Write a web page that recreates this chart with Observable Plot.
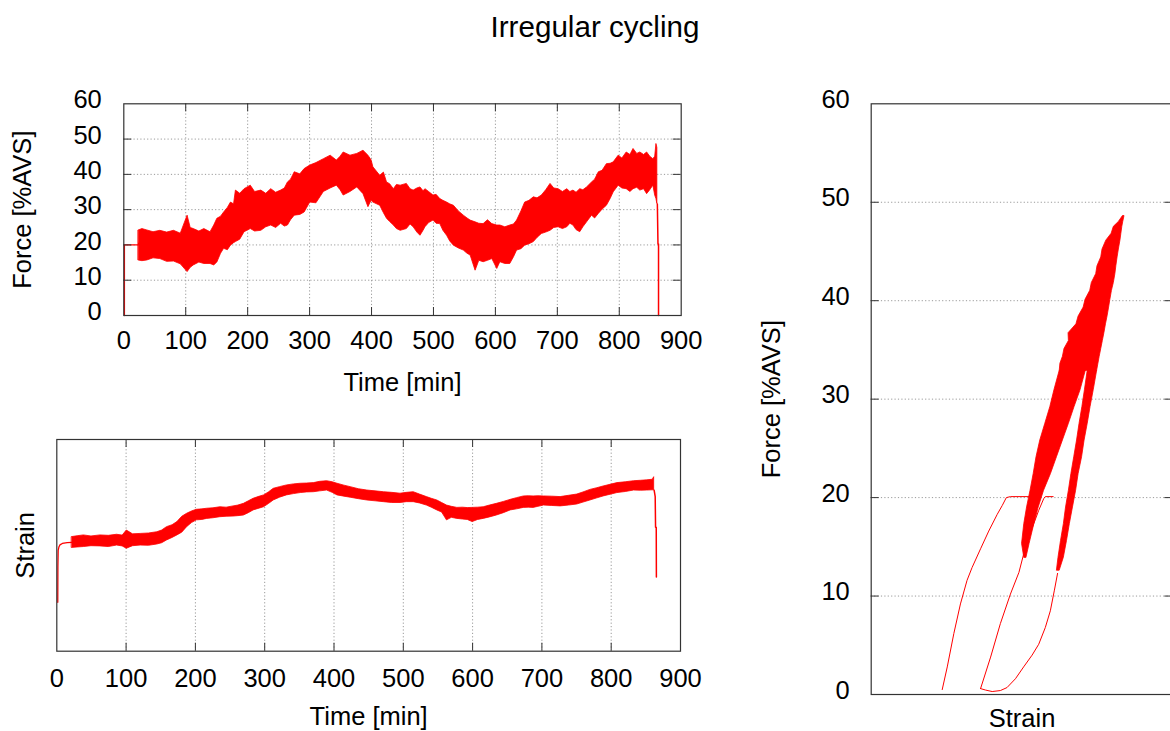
<!DOCTYPE html>
<html>
<head>
<meta charset="utf-8">
<script src="https://cdn.jsdelivr.net/npm/d3@7"></script>
<script src="https://cdn.jsdelivr.net/npm/@observablehq/plot@0.6"></script>
<style>
html,body{margin:0;padding:0;background:#fff;overflow:hidden;width:1170px;height:731px;}
#root{position:relative;width:1170px;height:731px;overflow:hidden;font-family:"Liberation Sans",Arial,sans-serif;}
#title{position:absolute;left:0;width:1190px;top:12.1px;text-align:center;font-size:29.6px;line-height:30px;color:#000;}
</style>
</head>
<body>
<div id="root"><div id="title">Irregular cycling</div></div>
<script>
// ---------- tick labels ----------
const timeTicks = [0, 100, 200, 300, 400, 500, 600, 700, 800, 900];
const forceTicks = [0, 10, 20, 30, 40, 50, 60];
const timeGrid = [100, 200, 300, 400, 500, 600, 700, 800];
const forceGrid = [10, 20, 30, 40, 50];

// ---------- force vs time: cycling band envelope ----------
const bandTime = [24,30,38,48,59,70,81,92,103,108,113,122,130,140,146,151,157,162,168,173,178,181,188,195,205,212,222,230,238,246,254,260,265,270,276,285,292,301,311,323,334,344,350,355,366,377,387,395,400,403,414,420,425,430,436,441,447,457,463,468,474,479,484,487,493,500,505,511,516,522,527,533,541,549,555,560,568,574,581,588,595,603,608,616,624,630,635,642,648,655,662,668,675,682,689,695,702,709,716,721,726,731,737,742,748,756,761,767,773,780,786,791,799,805,812,818,823,829,834,840,845,850,855,858,860,861.5];
const bandForceHi = [24.1,24.5,24.1,23.6,24.0,23.5,24.0,23.2,28.3,24.8,24.5,23.8,24.5,23.6,25.5,27.4,28.0,29.2,30.5,32.0,31.5,35.4,34.5,35.8,36.8,35.0,35.4,34.5,35.8,34.8,35.4,36.0,37.7,38.5,40.6,40.0,41.5,42.5,43.2,44.3,45.3,43.9,45.0,46.2,45.3,45.8,46.7,45.3,44.0,42.0,39.6,40.5,37.7,37.2,35.8,37.0,36.8,37.3,35.8,35.4,36.0,36.3,35.2,35.8,35.0,34.0,34.2,33.0,32.5,32.0,31.5,31.1,29.5,28.3,27.5,26.9,26.4,26.0,25.9,27.0,25.9,25.5,25.5,25.0,25.5,25.8,26.9,29.5,32.0,32.5,33.5,33.2,34.0,35.5,37.3,36.0,35.8,35.0,35.8,35.0,35.4,34.8,35.8,35.5,36.3,37.7,38.5,40.6,41.0,42.9,43.0,43.4,45.3,44.5,46.2,45.5,47.2,45.8,46.2,45.5,46.2,45.0,44.3,45.0,48.6,47.5];
const bandForceLo = [15.6,15.4,15.6,16.2,16.0,15.2,15.3,14.5,12.3,13.5,14.2,15.0,14.6,14.6,14.2,15.0,17.5,18.9,18.5,19.8,20.5,20.8,21.5,23.6,24.5,23.8,24.0,25.0,25.5,24.8,26.0,25.2,25.5,27.0,28.3,28.5,29.2,32.0,31.8,35.0,36.0,36.8,35.5,34.0,35.0,36.3,34.4,30.7,32.5,32.0,31.1,29.0,27.4,26.5,25.5,24.5,24.0,24.5,25.8,25.0,23.5,22.6,24.0,25.0,26.2,26.9,26.0,25.9,24.0,22.6,21.0,19.8,19.0,18.4,17.5,17.0,12.7,15.5,15.1,15.5,16.0,13.2,15.1,14.6,14.6,16.5,18.4,18.8,19.8,20.2,20.8,22.0,23.1,23.5,24.0,24.8,25.0,24.5,25.0,26.0,25.5,24.2,23.6,25.0,26.4,28.3,27.5,28.8,30.0,31.1,33.0,34.9,36.8,36.0,35.8,35.0,35.8,36.2,35.4,35.8,34.4,35.5,36.8,34.0,33.0,31.6];
// thin segments before and after cycling
const rampTime = [1, 1, 24, 24];
const rampForce = [0, 20, 20, 20.5];
const unloadTime = [861.5, 862.5, 863.4, 863.4];
const unloadForce = [31.6, 20.3, 20.3, 0];

// ---------- strain vs time (relative units, 0 = bottom, 100 = top of frame) ----------
const strainTime = [22,30,39,50,63,75,87,95,101,110,121,133,145,152,159,167,174,181,188,195,202,210,217,226,236,245,255,262,270,277,284,291,299,306,313,322,332,342,352,361,371,380,390,398,405,415,424,436,448,460,472,484,496,505,515,524,534,541,549,556,563,570,578,586,593,600,608,616,625,635,645,655,664,674,681,688,695,703,715,727,739,751,760,770,780,789,799,809,821,833,843,852,860,862];
const strainHi = [53.9,54.3,54.7,54.2,54.7,54.5,55.0,54.6,57.0,55.2,55.4,55.6,56.2,57.0,58.6,59.5,61.0,63.5,64.9,66.0,66.8,67.0,67.3,67.5,68.0,67.8,68.4,68.8,69.6,70.8,72.0,72.8,73.6,75.0,76.7,77.5,78.3,78.8,79.1,79.2,79.4,80.0,80.3,79.8,79.1,78.2,77.5,76.5,75.9,75.5,75.1,74.8,74.4,74.8,75.1,74.0,72.8,72.0,71.2,70.0,68.8,68.2,67.7,67.8,67.6,67.7,67.8,68.0,68.8,69.6,70.5,71.5,72.3,73.1,73.2,73.1,73.2,73.1,73.0,72.8,73.4,74.0,75.0,76.2,77.0,77.8,78.6,79.4,79.8,80.3,80.5,80.7,81.0,82.2];
const strainLo = [48.8,49.0,49.2,49.6,49.5,49.2,49.9,49.5,48.4,49.6,49.9,49.8,50.4,51.0,52.3,53.5,54.7,56.0,58.6,60.5,61.8,62.0,62.5,62.8,63.3,63.5,63.6,63.8,64.1,65.2,66.5,67.2,68.0,69.5,71.2,72.5,73.6,74.2,74.7,75.0,75.1,75.5,75.9,74.8,73.6,73.0,72.5,71.8,71.2,70.8,70.4,70.0,70.0,70.4,70.4,69.8,68.8,67.8,66.5,65.5,61.8,63.0,62.5,62.2,62.0,61.0,62.0,62.5,63.2,64.1,65.2,66.5,67.0,67.7,67.8,67.7,68.2,68.8,68.6,68.4,68.8,69.3,70.2,71.2,72.2,73.1,73.9,74.7,75.2,75.9,75.8,75.9,76.0,75.9];
const strainRampTime = [1.4, 1.6, 2.0, 3.0, 4.5, 8, 15, 22];
const strainRamp = [23.1, 40.0, 47.6, 49.2, 50.2, 50.9, 51.3, 51.4];
const strainEndTime = [862, 863.5, 864, 865, 865.2];
const strainEnd = [76.0, 73.0, 58.6, 58.6, 35.0];

// ---------- force vs strain loops (strain in relative units) ----------
const loopTopF = [32.9,33.6,34.3,35.1,35.9,36.7,37.6,38.4,39.3,40.1,41.0,41.8,42.7,43.5,44.4,45.2,46.1,46.8,47.5,48.0,48.6];
const loopTopL = [60.0,60.2,61.0,61.5,62.9,62.8,65.3,66.0,67.6,68.2,69.7,70.2,71.6,72.0,73.2,73.6,74.8,76.5,77.2,78.8,80.1];
const loopTopR = [71.9,72.3,72.7,73.2,73.7,74.2,74.7,75.2,75.7,76.1,76.6,77.2,77.7,78.0,78.4,78.8,79.3,79.6,79.9,80.2,80.6];
const loopLeftF = [13.9,15.3,17.3,19.0,20.7,22.4,24.1,25.8,27.5,29.2,30.9,32.9];
const loopLeftL = [48.7,48.0,48.7,49.6,50.7,51.7,52.6,53.8,55.4,57.0,58.3,60.0];
const loopLeftR = [49.4,50.4,51.9,53.3,55.0,57.2,59.1,61.0,62.9,64.7,66.6,68.3];
const loopRightF = [12.6,13.9,15.6,17.3,19.0,20.7,22.4,24.1,25.8,27.5,29.2,30.9,32.9];
const loopRightL = [59.1,59.6,60.4,61.3,62.0,62.9,63.7,64.6,65.5,66.3,67.2,68.0,68.9];
const loopRightR = [60.0,61.3,62.3,63.2,64.2,65.2,66.0,67.1,67.9,68.9,69.8,70.8,71.9];
const loadAStrain = [22.6,24.2,26.3,28.4,30.5,32.1,34.8,37.4,40.1,41.7,43.0,44.3,50.7];
const loadAForce = [0.5,2.8,6.2,9.2,11.6,12.9,14.8,16.6,18.3,19.2,20.0,20.1,20.1];
const loadBStrain = [34.8,38.0,41.1,44.3,47.0,48.7,51.2,53.3,54.9,55.4,57.9];
const loadBForce = [0.6,3.8,7.2,10.2,12.4,14.5,16.9,18.7,19.9,20.1,20.1];
const loadCStrain = [34.8,36.4,38.5,41.1,43.2,45.9,48.5,51.2,53.3,55.4,57.0,58.3,59.3];
const loadCForce = [0.6,0.45,0.3,0.4,0.7,1.6,2.8,4.0,5.1,6.8,8.5,10.6,12.3];

// ---------- build tables ----------
const forceBand = bandTime.map((t, i) => ({t, lo: bandForceLo[i], hi: bandForceHi[i]}));
const ramp = rampTime.map((t, i) => ({t, f: rampForce[i]}));
const unload = unloadTime.map((t, i) => ({t, f: unloadForce[i]}));
const strainBand = strainTime.map((t, i) => ({t, lo: strainLo[i], hi: strainHi[i]}));
const sRamp = strainRampTime.map((t, i) => ({t, s: strainRamp[i]}));
const sEnd = strainEndTime.map((t, i) => ({t, s: strainEnd[i]}));
const loopTop = loopTopF.map((f, i) => ({f, l: loopTopL[i], r: loopTopR[i]}));
const loopLeft = loopLeftF.map((f, i) => ({f, l: loopLeftL[i], r: loopLeftR[i]}));
const loopRight = loopRightF.map((f, i) => ({f, l: loopRightL[i], r: loopRightR[i]}));
const loadA = loadAStrain.map((u, i) => ({u, f: loadAForce[i]}));
const loadB = loadBStrain.map((u, i) => ({u, f: loadBForce[i]}));
const loadC = loadCStrain.map((u, i) => ({u, f: loadCForce[i]}));

// ---------- styles ----------
const FONT = "'Liberation Sans', Arial, sans-serif";
const RED = "#ff0000";
const INK = "#333333";
const GRID = {stroke: "#9a9a9a", strokeWidth: 1, strokeDasharray: "1.2,2.2"};
const TICK = 8;
const style = {fontFamily: FONT, fontSize: "25.5px", color: "#000", background: "transparent", overflow: "visible"};
const root = document.getElementById("root");
function place(el, left, top) {
  el.style.position = "absolute";
  el.style.left = left + "px";
  el.style.top = top + "px";
  root.appendChild(el);
}
const fmt = d3.format("d");

// ---------- panel 1: force vs time ----------
{
  const W = 720, H = 335, mL = 123.3, mR = 39.3, mT = 23.3, mB = 100;
  const fh = H - mT - mB, fw = W - mL - mR;
  const p = Plot.plot({
    width: W, height: H, marginLeft: mL, marginRight: mR, marginTop: mT, marginBottom: mB,
    style,
    x: {domain: [0, 900]},
    y: {domain: [0, 60]},
    marks: [
      Plot.ruleX(timeGrid, GRID),
      Plot.ruleY(forceGrid, GRID),
      Plot.areaY(forceBand, {x: "t", y1: "lo", y2: "hi", fill: RED, stroke: RED, strokeWidth: 0.8}),
      Plot.line(ramp, {x: "t", y: "f", stroke: RED, strokeWidth: 1.3}),
      Plot.line(unload, {x: "t", y: "f", stroke: RED, strokeWidth: 1.5}),
      Plot.ruleX(timeGrid, {stroke: INK, insetTop: fh - TICK}),
      Plot.ruleX(timeGrid, {stroke: INK, insetBottom: fh - TICK}),
      Plot.ruleY(forceGrid, {stroke: INK, insetRight: fw - TICK}),
      Plot.ruleY(forceGrid, {stroke: INK, insetLeft: fw - TICK}),
      Plot.frame({stroke: INK, strokeWidth: 1.2}),
      Plot.axisX({ticks: timeTicks, tickSize: 0, tickPadding: 15, tickFormat: fmt, label: "Time [min]", labelAnchor: "center", labelOffset: 75, labelArrow: "none"}),
      Plot.axisY({ticks: forceTicks, tickSize: 0, tickPadding: 22, dy: -3.5, tickFormat: fmt, label: "Force [%AVS]", labelAnchor: "center", labelOffset: 111, labelArrow: "none"})
    ]
  });
  place(p, 0, 80);
}

// ---------- panel 2: strain vs time ----------
{
  const W = 720, H = 316, mL = 56.3, mR = 40, mT = 24, mB = 80.3;
  const fh = H - mT - mB;
  const p = Plot.plot({
    width: W, height: H, marginLeft: mL, marginRight: mR, marginTop: mT, marginBottom: mB,
    style,
    x: {domain: [0, 900]},
    y: {domain: [0, 100]},
    marks: [
      Plot.ruleX(timeGrid, GRID),
      Plot.areaY(strainBand, {x: "t", y1: "lo", y2: "hi", fill: RED, stroke: RED, strokeWidth: 0.8}),
      Plot.line(sRamp, {x: "t", y: "s", stroke: RED, strokeWidth: 1.3}),
      Plot.line(sEnd, {x: "t", y: "s", stroke: RED, strokeWidth: 1.5}),
      Plot.ruleX(timeGrid, {stroke: INK, insetTop: fh - TICK}),
      Plot.ruleX(timeGrid, {stroke: INK, insetBottom: fh - TICK}),
      Plot.frame({stroke: INK, strokeWidth: 1.2}),
      Plot.axisX({ticks: timeTicks, tickSize: 0, tickPadding: 17.5, tickFormat: fmt, label: "Time [min]", labelAnchor: "center", labelOffset: 74, labelArrow: "none"}),
      Plot.axisY({ticks: [], tickSize: 0, label: "Strain", labelAnchor: "center", labelOffset: 41.3, labelArrow: "none"})
    ]
  });
  place(p, 0, 415);
}

// ---------- panel 3: force vs strain ----------
{
  const W = 470, H = 651, mL = 150.7, mR = 17.6, mT = 23.3, mB = 37;
  const fw = W - mL - mR;
  const p = Plot.plot({
    width: W, height: H, marginLeft: mL, marginRight: mR, marginTop: mT, marginBottom: mB,
    style,
    x: {domain: [0, 96]},
    y: {domain: [0, 60]},
    marks: [
      Plot.ruleY(forceGrid, GRID),
      Plot.line(loadA, {x: "u", y: "f", stroke: RED, strokeWidth: 1}),
      Plot.line(loadB, {x: "u", y: "f", stroke: RED, strokeWidth: 1}),
      Plot.line(loadC, {x: "u", y: "f", stroke: RED, strokeWidth: 1}),
      Plot.areaX(loopLeft, {y: "f", x1: "l", x2: "r", fill: RED, stroke: RED, strokeWidth: 0.8}),
      Plot.areaX(loopRight, {y: "f", x1: "l", x2: "r", fill: RED, stroke: RED, strokeWidth: 0.8}),
      Plot.areaX(loopTop, {y: "f", x1: "l", x2: "r", fill: RED, stroke: RED, strokeWidth: 0.8}),
      Plot.ruleY(forceGrid, {stroke: INK, insetRight: fw - TICK}),
      Plot.ruleY(forceGrid, {stroke: INK, insetLeft: fw - TICK}),
      Plot.frame({stroke: INK, strokeWidth: 1.2}),
      Plot.axisX({ticks: [], tickSize: 0, label: "Strain", labelAnchor: "center", labelOffset: 32.5, labelArrow: "none"}),
      Plot.axisY({ticks: forceTicks, tickSize: 0, tickPadding: 21.4, dy: -4, tickFormat: fmt, label: "Force [%AVS]", labelAnchor: "center", labelOffset: 109.7, labelArrow: "none"})
    ]
  });
  place(p, 720, 80);
}
</script>
</body>
</html>
